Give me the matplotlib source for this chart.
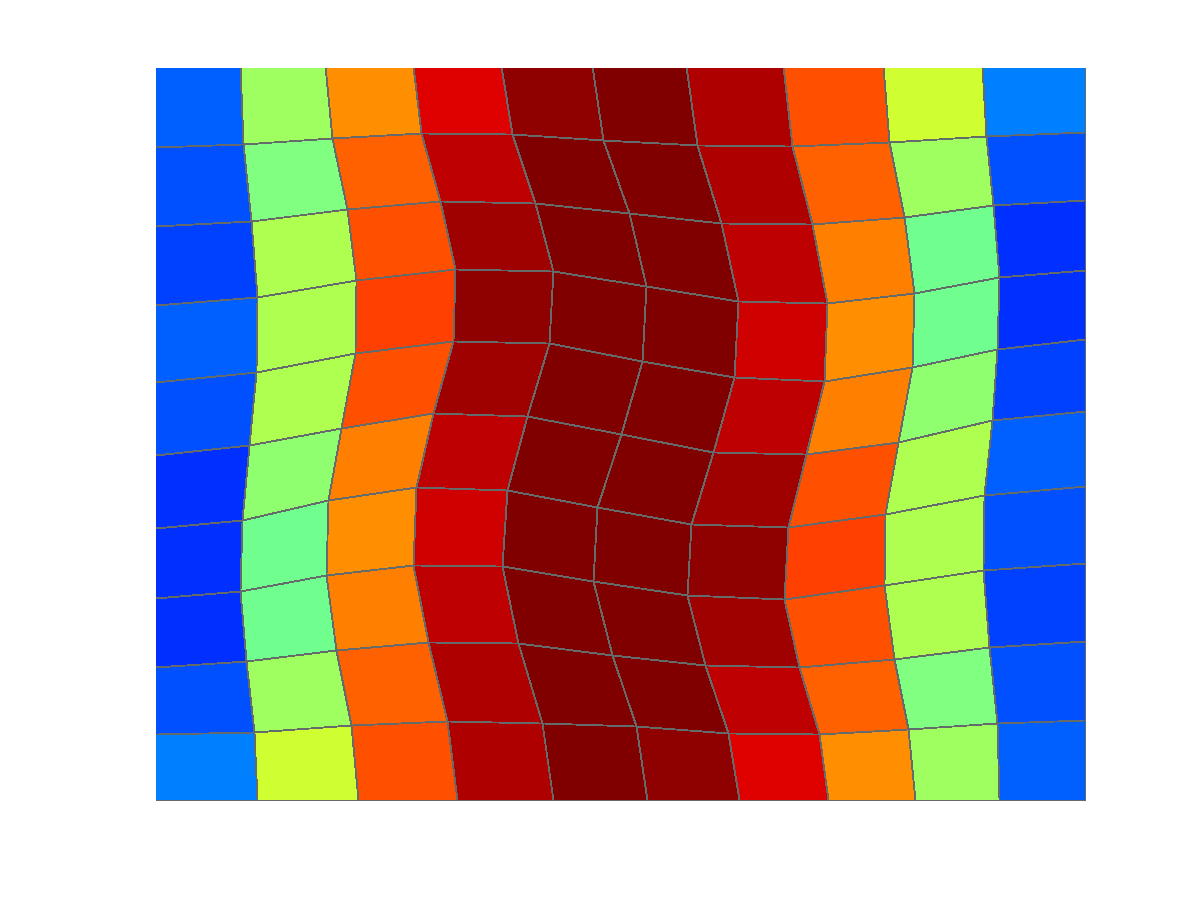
import numpy as np
import matplotlib
matplotlib.use("Agg")
import matplotlib.pyplot as plt
from matplotlib.colors import ListedColormap

# Vertex x-coordinates of the distorted grid (rows top -> bottom)
X = np.array([
    [0, 0.920, 1.832, 2.771, 3.720, 4.703, 5.711, 6.752, 7.822, 8.895, 10],
    [0, 0.952, 1.907, 2.862, 3.838, 4.821, 5.829, 6.849, 7.886, 8.935, 10],
    [0, 1.038, 2.063, 3.069, 4.088, 5.097, 6.080, 7.063, 8.055, 9.013, 10],
    [0, 1.098, 2.164, 3.230, 4.274, 5.276, 6.269, 7.224, 8.155, 9.074, 10],
    [0, 1.084, 2.146, 3.201, 4.231, 5.239, 6.223, 7.189, 8.136, 9.048, 10],
    [0, 1.012, 2.003, 2.986, 3.999, 5.011, 6.001, 6.999, 7.986, 8.995, 10],
    [0, 0.937, 1.859, 2.808, 3.780, 4.756, 5.759, 6.803, 7.851, 8.916, 10],
    [0, 0.920, 1.835, 2.771, 3.731, 4.714, 5.722, 6.767, 7.833, 8.898, 10],
    [0, 0.984, 1.950, 2.932, 3.906, 4.911, 5.909, 6.928, 7.940, 8.970, 10],
    [0, 1.065, 2.103, 3.141, 4.166, 5.168, 6.159, 7.135, 8.093, 9.048, 10],
    [0, 1.098, 2.181, 3.244, 4.281, 5.293, 6.277, 7.235, 8.165, 9.074, 10],
])

# Vertex y-coordinates of the distorted grid (rows top -> bottom)
Y = np.array([
    [10, 10, 10, 10, 10, 10, 10, 10, 10, 10, 10],
    [8.903, 8.948, 9.026, 9.094, 9.075, 8.993, 8.934, 8.917, 8.971, 9.053, 9.108],
    [7.824, 7.892, 8.051, 8.160, 8.138, 8.005, 7.865, 7.846, 7.947, 8.105, 8.183],
    [6.753, 6.862, 7.090, 7.240, 7.209, 7.004, 6.807, 6.772, 6.908, 7.127, 7.231],
    [5.701, 5.829, 6.093, 6.261, 6.225, 5.988, 5.761, 5.715, 5.898, 6.148, 6.284],
    [4.699, 4.840, 5.078, 5.273, 5.236, 4.986, 4.750, 4.713, 4.881, 5.178, 5.305],
    [3.712, 3.825, 4.085, 4.272, 4.231, 3.999, 3.766, 3.725, 3.903, 4.157, 4.280],
    [2.755, 2.846, 3.064, 3.210, 3.187, 2.982, 2.791, 2.746, 2.928, 3.142, 3.234],
    [1.813, 1.899, 2.049, 2.154, 2.141, 1.981, 1.844, 1.821, 1.922, 2.086, 2.172],
    [0.898, 0.933, 1.025, 1.079, 1.056, 1.011, 0.911, 0.898, 0.970, 1.048, 1.093],
    [0, 0, 0, 0, 0, 0, 0, 0, 0, 0, 0],
])

# Cell values (rows top -> bottom)
C = np.array([
    [0.211, 0.523, 0.727, 0.898, 0.977, 1.000, 0.945, 0.789, 0.570, 0.242],
    [0.195, 0.492, 0.773, 0.930, 1.000, 1.000, 0.945, 0.773, 0.523, 0.195],
    [0.180, 0.539, 0.789, 0.961, 1.000, 1.000, 0.930, 0.742, 0.477, 0.164],
    [0.211, 0.539, 0.805, 0.977, 1.000, 1.000, 0.914, 0.727, 0.477, 0.164],
    [0.195, 0.539, 0.789, 0.961, 1.000, 1.000, 0.930, 0.742, 0.508, 0.180],
    [0.164, 0.508, 0.742, 0.930, 1.000, 1.000, 0.961, 0.789, 0.539, 0.211],
    [0.164, 0.477, 0.727, 0.914, 1.000, 1.000, 0.977, 0.805, 0.539, 0.195],
    [0.164, 0.477, 0.742, 0.930, 1.000, 1.000, 0.961, 0.789, 0.539, 0.180],
    [0.195, 0.523, 0.773, 0.945, 1.000, 1.000, 0.930, 0.773, 0.492, 0.195],
    [0.242, 0.570, 0.789, 0.945, 1.000, 0.977, 0.898, 0.727, 0.523, 0.211],
])


def matlab_jet(m=64):
    n = int(np.ceil(m / 4))
    u = np.concatenate([np.arange(1, n + 1) / n, np.ones(n - 1), np.arange(n, 0, -1) / n])
    g = int(np.ceil(n / 2)) - (1 if m % 4 == 1 else 0) + np.arange(1, len(u) + 1)
    r = g + n
    b = g - n
    J = np.zeros((m, 3))
    for ch, idx in ((0, r), (1, g), (2, b)):
        ok = (idx >= 1) & (idx <= m)
        J[idx[ok] - 1, ch] = u[ok]
    return ListedColormap(J)


fig = plt.figure(figsize=(12, 9), dpi=100)
ax = fig.add_axes([0.13, 0.11, 0.775, 0.815])
ax.pcolormesh(X, Y, C, cmap=matlab_jet(64), vmin=0, vmax=1,
              edgecolors="#656a6a", linewidth=0.6, shading="flat")
# left/top outline just outside the view, right/bottom outline visible
ax.set_xlim(0.012, 10.008)
ax.set_ylim(-0.01, 9.985)
ax.axis("off")
fig.savefig("out.png", dpi=100)
